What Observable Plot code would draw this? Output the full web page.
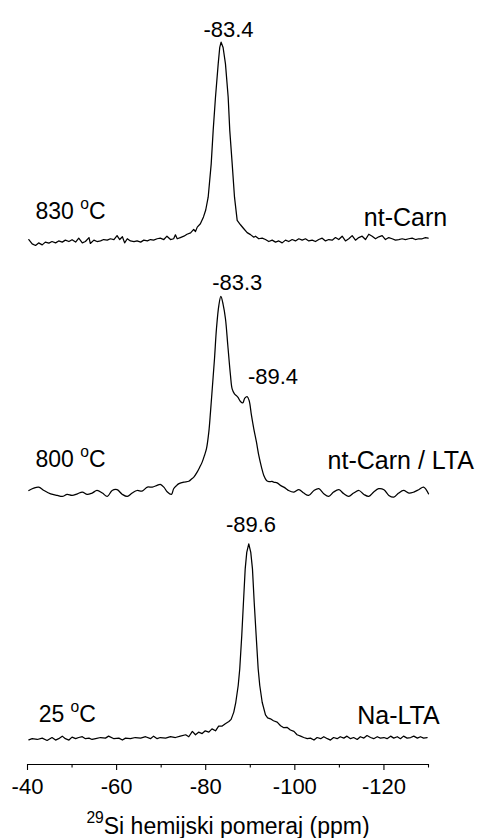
<!DOCTYPE html>
<html>
<head>
<meta charset="utf-8">
<script src="https://cdn.jsdelivr.net/npm/d3@7"></script>
<script src="https://cdn.jsdelivr.net/npm/@observablehq/plot@0.6"></script>
<style>
  body { margin: 0; background: #fff; }
  #chart svg { display: block; }
</style>
</head>
<body>
<div id="chart"></div>
<script>
// ---------- data ----------
// 830 °C, nt-Carn
const ppm830 = [-40.3,-41.05,-41.8,-42.5,-43.3,-44.0,-44.8,-45.5,-46.3,-47.0,-47.8,-48.5,-49.3,-50.0,-50.8,-51.5,-52.3,-53.0,-53.8,-54.1,-54.9,-55.6,-56.4,-57.1,-57.9,-58.6,-59.4,-60.1,-60.7,-61.3,-61.8,-62.4,-63.1,-63.9,-64.6,-65.4,-66.1,-66.9,-67.6,-68.3,-69.1,-69.8,-70.6,-71.3,-72.1,-72.8,-73.2,-73.6,-74.3,-75.1,-75.8,-76.6,-77.0,-77.3,-77.7,-78.1,-78.8,-79.5,-80.0,-80.55,-81.23,-81.67,-82.19,-82.8,-83.15,-83.45,-83.9,-84.43,-85.04,-85.4,-85.94,-86.46,-87.06,-87.8,-88.5,-89.3,-90.05,-90.79,-91.17,-91.91,-92.67,-93.41,-94.15,-94.92,-95.66,-96.4,-97.16,-97.9,-98.64,-99.4,-100.14,-100.89,-101.65,-102.39,-103.13,-103.89,-104.63,-105.37,-106.14,-106.88,-107.62,-108.38,-109.12,-109.86,-110.62,-111.36,-112.11,-112.87,-113.61,-114.35,-115.11,-115.85,-116.6,-117.36,-118.1,-118.84,-119.6,-120.34,-121.08,-121.84,-122.59,-123.33,-124.09,-124.83,-125.57,-126.33,-127.07,-127.81,-128.58,-129.32,-129.92];
const int830 = [0.010,-0.012,-0.020,-0.007,-0.017,-0.003,-0.008,0,-0.007,0.003,-0.003,0.007,0,0.009,-0.003,0.017,-0.007,0,0.020,-0.010,0.007,0,0.003,0.010,0.007,0.014,0.010,0.030,0.010,0.024,-0.007,0.014,0.003,0,0.003,-0.003,0.007,0.003,0.010,0.007,0.014,0.017,0.010,0.027,0.010,0.014,0.034,0.014,0.020,0.027,0.037,0.044,0.054,0.061,0.051,0.073,0.090,0.125,0.160,0.225,0.394,0.563,0.732,0.902,0.986,1.012,0.985,0.902,0.732,0.563,0.394,0.225,0.107,0.085,0.066,0.045,0.035,0.022,0.027,0.014,0.017,0.010,0,0.007,-0.003,0.003,-0.007,0.007,0,0.010,0.003,0.014,0.007,0.014,0.003,0.007,0,0.010,0.017,0.003,0.010,0.007,0.020,0.010,0.027,0.003,0.014,0.030,0.007,0.020,0.027,0.010,0.037,0.027,0.014,0.024,0.030,0.010,0.020,0.014,0.007,0.010,0.014,0.010,0.014,0.017,0.010,0.014,0.014,0.020,0.017];

// 800 °C, nt-Carn / LTA
const ppm800 = [-40.3,-41.4,-42.5,-43.7,-45.2,-46.7,-47.8,-48.9,-50.0,-51.2,-52.3,-53.4,-54.5,-55.6,-56.8,-57.9,-59.0,-60.1,-61.3,-62.4,-63.5,-64.6,-65.7,-66.9,-68.0,-69.1,-69.8,-70.6,-71.4,-72.3,-72.8,-73.5,-74.0,-75.1,-76.2,-76.9,-77.33,-78.07,-78.67,-79.2,-79.72,-80.17,-80.69,-81.07,-81.52,-81.97,-82.41,-82.94,-83.4,-83.9,-84.43,-84.96,-85.56,-85.93,-86.45,-87.2,-87.8,-88.32,-88.77,-89.3,-89.74,-90.27,-90.79,-91.39,-91.91,-92.51,-93.04,-93.64,-94.2,-94.9,-95.3,-96.03,-96.78,-97.53,-98.3,-98.6,-99.8,-100.9,-102.0,-103.1,-104.3,-105.4,-106.5,-107.6,-108.7,-109.9,-111.0,-112.1,-113.2,-114.4,-115.5,-116.6,-117.7,-118.8,-120.0,-121.1,-122.2,-123.3,-124.4,-125.6,-126.7,-127.8,-128.9,-130.0];
const int800 = [0.015,0.027,0.032,0.015,-0.002,-0.010,-0.015,-0.005,-0.010,-0.002,0.007,-0.005,0.002,0.015,0.002,-0.015,0.015,0.019,-0.005,-0.015,0.002,0.015,0.012,0.032,0.032,0.041,0.046,0.032,0.007,-0.005,0.024,0.041,0.050,0.058,0.062,0.075,0.083,0.108,0.134,0.159,0.193,0.227,0.311,0.413,0.548,0.684,0.836,0.954,1.0,0.96,0.887,0.751,0.599,0.531,0.506,0.489,0.467,0.460,0.484,0.492,0.472,0.396,0.328,0.260,0.193,0.134,0.091,0.066,0.060,0.061,0.057,0.054,0.041,0.032,0.020,0.015,0.007,0.019,0.002,-0.010,0.015,0.024,-0.002,-0.015,0.007,0.019,-0.002,-0.015,0.002,0.015,-0.005,-0.015,0.007,0.024,0.019,-0.010,-0.019,0.002,0.015,0.002,0.007,0.019,0.032,-0.002];

// 25 °C, Na-LTA
const ppm25 = [-40.3,-41.05,-42.2,-43.3,-44.4,-45.5,-46.3,-47.0,-47.8,-48.5,-49.3,-50.0,-50.8,-51.5,-52.3,-53.0,-53.8,-54.5,-55.3,-56.4,-57.5,-58.2,-59.4,-60.5,-61.3,-62.0,-63.1,-64.2,-65.4,-66.5,-67.6,-68.3,-69.1,-69.8,-71.0,-72.1,-73.2,-74.3,-75.5,-76.2,-77.0,-77.7,-78.4,-79.2,-79.9,-80.7,-81.4,-82.2,-82.9,-83.7,-84.4,-85.2,-85.7,-86.3,-86.75,-87.29,-87.64,-88.09,-88.47,-88.86,-89.21,-89.66,-90.11,-90.49,-90.88,-91.32,-91.77,-92.13,-92.67,-93.41,-93.9,-94.53,-95.2,-96.04,-96.8,-97.52,-98.3,-99.0,-99.8,-100.5,-101.3,-102.0,-102.8,-103.5,-104.3,-105.0,-105.8,-106.5,-107.3,-108.0,-108.7,-109.5,-110.2,-111.0,-111.7,-112.5,-113.2,-114.0,-114.7,-115.5,-116.2,-117.0,-117.7,-118.5,-119.2,-120.0,-120.7,-121.5,-122.2,-123.0,-123.7,-124.4,-125.2,-126.0,-126.7,-127.5,-128.2,-128.9,-129.7];
const int25 = [-0.002,0.004,0,0.007,-0.005,0.010,-0.003,0.004,0.017,0.004,-0.003,0.012,0.004,0.010,0.014,0.004,0.007,0,0.004,0.010,0.007,0.017,0.004,0.007,-0.003,0.007,0.004,0.010,0.007,0.014,0.004,0.017,0.004,0.010,0.007,0.014,0.010,0.017,0.024,0.014,0.041,0.024,0.037,0.030,0.044,0.037,0.054,0.044,0.068,0.068,0.080,0.091,0.102,0.139,0.189,0.274,0.359,0.528,0.697,0.866,0.950,0.993,0.950,0.866,0.697,0.528,0.359,0.274,0.189,0.125,0.110,0.105,0.095,0.088,0.070,0.060,0.061,0.048,0.041,0.024,0.017,0.010,0.004,0.007,-0.003,0.010,0.004,0.014,0.004,-0.003,0.010,0.004,0.014,0.007,0.017,0.004,0.010,0,0.014,0.007,0.020,0.010,0.004,0.014,0.007,0.010,0.004,0.017,0.007,0.014,0.004,0.017,0.007,0.010,0.017,0.007,0.014,0.007,0.010];

const temperatures = ["830 ^{o}C", "800 ^{o}C", "25 ^{o}C"];
const samples = ["nt-Carn", "nt-Carn / LTA", "Na-LTA"];
const peakLabels = ["-83.4", "-83.3", "-89.4", "-89.6"];
const peakPpm = [-83.4, -83.3, -89.4, -89.6];
const peakSeries = [0, 1, 1, 2];
const majorTicks = [-40, -60, -80, -100, -120];
const minorTicks = [-50, -70, -90, -110, -130];
const xTitle = "^{29}Si hemijski pomeraj (ppm)";

// ---------- layout ----------
const W = 478, H = 838;
const offsets = [2.528, 1.249, 0];          // vertical stacking of the spectra
const curves = ["linear", "catmull-rom", "linear"];
const yDomain = [-0.127, 3.65];
const series = [
  {ppm: ppm830, val: int830},
  {ppm: ppm800, val: int800},
  {ppm: ppm25,  val: int25}
];

function peakY(k, p) {
  const s = series[k];
  let best = 0;
  s.ppm.forEach((q, i) => { if (Math.abs(q - p) < Math.abs(s.ppm[best] - p)) best = i; });
  return s.val[best] + offsets[k];
}

const peakDx = [7.6, 16.8, 25.4, 2.5];
const peakDy = [-4.7, -6, -13, -11.4];
const tempPos = [{x: -41.8, y: 2.643}, {x: -41.8, y: 1.382}, {x: -42.5, y: 0.088}];
const samplePos = [{x: -134.2, y: 2.609}, {x: -140.2, y: 1.374}, {x: -132.5, y: 0.079}];

const font = "'Liberation Sans', Arial, Helvetica, sans-serif";

const marks = [
  Plot.ruleY([yDomain[0]], {stroke: "black", strokeWidth: 1.1}),
  Plot.axisX({ticks: majorTicks, tickSize: 6, tickPadding: 8, fontSize: 22,
    tickFormat: d => String(d), label: null, strokeWidth: 1.1}),
  Plot.axisX({ticks: minorTicks, tickSize: 3.5, tickFormat: () => "", label: null, strokeWidth: 1.1}),
  ...series.map((s, k) => Plot.line(s.ppm, {
    x: d => d, y: (d, i) => s.val[i] + offsets[k],
    stroke: "black", strokeWidth: 1.25, curve: curves[k]})),
  ...peakLabels.map((t, i) => Plot.text([t], {
    x: () => peakPpm[i], y: () => peakY(peakSeries[i], peakPpm[i]), text: d => d,
    dx: peakDx[i], dy: peakDy[i], lineAnchor: "bottom", fontSize: 22, fill: "black"})),
  Plot.text(temperatures, {x: (d, i) => tempPos[i].x, y: (d, i) => tempPos[i].y, text: d => d,
    textAnchor: "start", lineAnchor: "bottom", fontSize: 23, fill: "black"}),
  Plot.text(samples, {x: (d, i) => samplePos[i].x, y: (d, i) => samplePos[i].y, text: d => d,
    textAnchor: "end", lineAnchor: "bottom", fontSize: 25, fill: "black"}),
  Plot.text([xTitle], {frameAnchor: "bottom", lineAnchor: "bottom", dy: 69, text: d => d,
    fontSize: 23, fill: "black"})
];

const chart = Plot.plot({
  width: W, height: H,
  marginLeft: 27, marginRight: 50, marginTop: 20, marginBottom: 74,
  style: {fontFamily: font, background: "white", color: "black", overflow: "visible"},
  x: {domain: [-40, -130]},
  y: {domain: yDomain, axis: null},
  marks
});
document.getElementById("chart").appendChild(chart);

// superscripts written as ^{...}
d3.select(chart).selectAll("text").each(function () {
  const t = this.textContent;
  if (!t.includes("^{")) return;
  const fs = parseFloat(getComputedStyle(this).fontSize) || 22;
  const sel = d3.select(this);
  sel.text(null);
  const parts = t.split(/(\^\{[^}]*\})/).filter(s => s);
  let raised = false;
  for (const p of parts) {
    const m = p.match(/^\^\{(.*)\}$/);
    const rise = fs * 0.45;
    if (m) {
      sel.append("tspan").attr("font-size", fs * 0.68).attr("dy", -rise).text(m[1]);
      raised = true;
    } else {
      const ts = sel.append("tspan").text(p);
      if (raised) ts.attr("dy", rise);
      raised = false;
    }
  }
});
</script>
</body>
</html>
